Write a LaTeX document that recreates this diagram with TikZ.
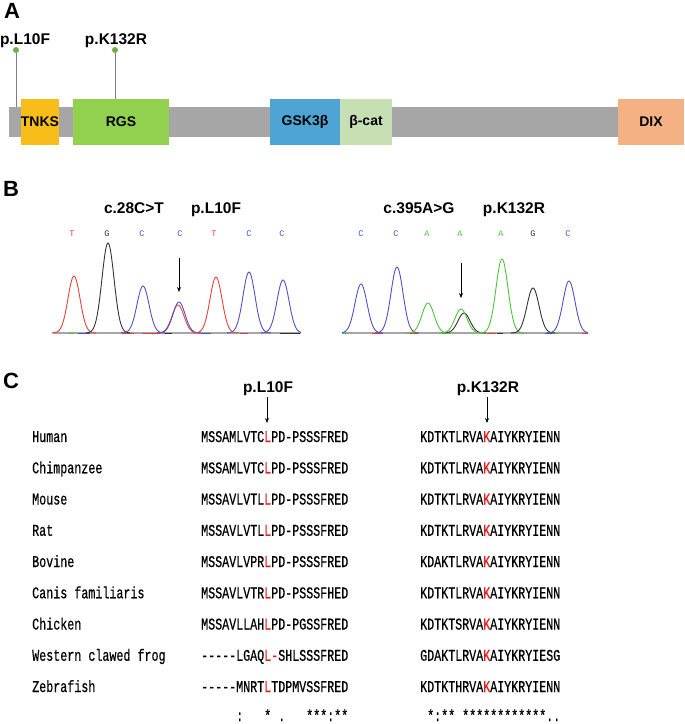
\documentclass[tikz,border=0pt]{standalone}
\usepackage{fontspec}
\setmainfont{Liberation Sans}
\newfontfamily\seqfont[FakeBold=0.6]{Liberation Mono}
\newfontfamily\callfont{Liberation Mono}
\usepackage{graphicx}
\usetikzlibrary{positioning}
\usetikzlibrary{arrows.meta}

\definecolor{barGray}{HTML}{A6A6A6}
\definecolor{tnksCol}{HTML}{F9BD19}
\definecolor{rgsCol}{HTML}{92D050}
\definecolor{gskCol}{HTML}{4EA5D5}
\definecolor{bcatCol}{HTML}{C6E0B4}
\definecolor{dixCol}{HTML}{F4B183}
\definecolor{dotGreen}{HTML}{70AD47}
\definecolor{trT}{HTML}{E8403C}
\definecolor{trG}{HTML}{333333}
\definecolor{trC}{HTML}{5050C8}
\definecolor{trA}{HTML}{4CC43A}
\definecolor{hitRed}{HTML}{E41E1E}

\newcommand{\tall}[1]{\scalebox{1}[1.4]{#1}}
\newcommand{\hit}[1]{\textcolor{hitRed}{#1}}

\begin{document}
\begin{tikzpicture}[x=1pt,y=-1pt]
    \tikzset{
    panel/.style={
        anchor=north west,
        inner sep=0,
        font=\fontsize{22}{24}\selectfont\bfseries
    },
    mutlabel/.style={
        anchor=base,
        inner sep=0,
        font=\fontsize{15.5}{18}\selectfont\bfseries
    },
    domainbox/.style={
        minimum height=46,
        inner sep=0,
        font=\fontsize{14}{16}\selectfont\bfseries
    },
    lolli/.style={
        circle,
        fill=dotGreen,
        minimum size=6,
        inner sep=0
    },
    stem/.style={
        gray,
        line width=0.9
    },
    basecall/.style={
        inner sep=0,
        font=\callfont\fontsize{8.5}{9}\selectfont
    },
    trace/.style={
        line width=0.9,
        smooth
    },
    pointer/.style={
        line width=0.9,
        -{Stealth[length=5pt,width=4pt]}
    },
    species/.style={
        anchor=base west,
        inner sep=0,
        font=\seqfont\fontsize{11.7}{14}\selectfont
    },
    seq/.style={
        anchor=base west,
        inner sep=0,
        font=\seqfont\fontsize{11.67}{14}\selectfont
    }
}
    \useasboundingbox (0,0) rectangle (685,724);

    % A: protein domains
    \node[panel] (PanelA) at (4,3) {A};
    \node[mutlabel] (MutL) at (25,44) {p.L10F};
    \node[mutlabel] (MutK) at (116,44) {p.K132R};

    \node[fill=barGray, minimum width=609, minimum height=30, inner sep=0] (Bar) at (313.5,122) {};
    \node[domainbox, fill=tnksCol, minimum width=38] (TNKS) at (40,122) {TNKS};
    \node[domainbox, fill=rgsCol, minimum width=96] (RGS) at (121,122) {RGS};
    \node[domainbox, fill=gskCol, minimum width=70] (GSK) at (305,122) {GSK3β};
    \node[domainbox, fill=bcatCol, minimum width=52] (Bcat) at (366,122) {β-cat};
    \node[domainbox, fill=dixCol, minimum width=66] (DIX) at (651,122) {DIX};

    \node[lolli] (DotL) at (16,50) {};
    \node[lolli] (DotK) at (115,50) {};
    \draw[stem] (DotL) -- (DotL |- Bar.north);
    \draw[stem] (DotK) -- (DotK |- RGS.north);

    % B: chromatograms
    \node[panel] (PanelB) at (3,181) {B};
    \node[mutlabel] (CdnaL) at (134,213) {c.28C>T};
    \node[mutlabel] (ProtL) at (216,213) {p.L10F};
    \node[mutlabel] (CdnaK) at (419,213) {c.395A>G};
    \node[mutlabel] (ProtK) at (514,213) {p.K132R};

    \node[basecall, text=trT] (bL1) at (72,234) {T};
    \node[basecall, text=trG] (bL2) at (107,234) {G};
    \node[basecall, text=trC] (bL3) at (142,234) {C};
    \node[basecall, text=trC] (bL4) at (180,234) {C};
    \node[basecall, text=trT] (bL5) at (214,234) {T};
    \node[basecall, text=trC] (bL6) at (249,234) {C};
    \node[basecall, text=trC] (bL7) at (282,234) {C};

    \node[basecall, text=trC] (bK1) at (361,234) {C};
    \node[basecall, text=trC] (bK2) at (396,234) {C};
    \node[basecall, text=trA] (bK3) at (427,234) {A};
    \node[basecall, text=trA] (bK4) at (460,234) {A};
    \node[basecall, text=trA] (bK5) at (501,234) {A};
    \node[basecall, text=trG] (bK6) at (533,234) {G};
    \node[basecall, text=trC] (bK7) at (568,234) {C};

    \draw[barGray, line width=1.6] (53,333) -- (301,333);
    \draw[barGray, line width=1.6] (342,333) -- (588,333);
    \draw[trA, line width=1] (68,333) -- (74,333) (342,333) -- (348,333) (552,333) -- (558,333);
    \draw[trC, line width=1] (78,333) -- (90,333) (201,333) -- (211,333) (545,333) -- (552,333);
    \draw[trT, line width=1] (122,333) -- (134,333) (142,333) -- (160,333) (240,333) -- (248,333) (372,333) -- (383,333) (410,333) -- (418,333) (487,333) -- (496,333) (582,333) -- (588,333);
    \draw[trG, line width=1] (165,333) -- (172,333) (280,333) -- (300,333) (497,333) -- (503,333);

    \draw[trace, trT] plot[domain=52:96, samples=45] (\x,{333-57*exp(-((\x-74)/8.5)^2)});
    \draw[trace, trG] plot[domain=86:130, samples=45] (\x,{333-90*exp(-((\x-108)/8.5)^2)});
    \draw[trace, trC] plot[domain=121:165, samples=45] (\x,{333-47*exp(-((\x-143)/8.5)^2)});
    \draw[trace, trT] plot[domain=156:200, samples=45] (\x,{333-28*exp(-((\x-178)/8.5)^2)});
    \draw[trace, trC] plot[domain=157:201, samples=45] (\x,{333-31*exp(-((\x-179)/8.5)^2)});
    \draw[trace, trT] plot[domain=194:238, samples=45] (\x,{333-56*exp(-((\x-216)/8.5)^2)});
    \draw[trace, trC] plot[domain=227:271, samples=45] (\x,{333-61*exp(-((\x-249)/8.5)^2)});
    \draw[trace, trC] plot[domain=261:301, samples=45] (\x,{333-53*exp(-((\x-283)/8.5)^2)});

    \draw[trace, trC] plot[domain=342:383, samples=45] (\x,{333-49*exp(-((\x-361)/8.5)^2)});
    \draw[trace, trC] plot[domain=375:419, samples=45] (\x,{333-66*exp(-((\x-397)/8.5)^2)});
    \draw[trace, trA] plot[domain=406:450, samples=45] (\x,{333-30*exp(-((\x-428)/8.5)^2)});
    \draw[trace, trG] plot[domain=442:486, samples=45] (\x,{333-20*exp(-((\x-464)/8.5)^2)});
    \draw[trace, trA] plot[domain=439:483, samples=45] (\x,{333-24*exp(-((\x-461)/8.5)^2)});
    \draw[trace, trA] plot[domain=480:524, samples=45] (\x,{333-74*exp(-((\x-502)/8.5)^2)});
    \draw[trace, trG] plot[domain=511:555, samples=45] (\x,{333-45*exp(-((\x-533)/8.5)^2)});
    \draw[trace, trC] plot[domain=547:588, samples=45] (\x,{333-52*exp(-((\x-569)/8.5)^2)});

    \coordinate (ArrLtop) at (179,258);
    \coordinate (ArrLend) at (179,292);
    \coordinate (ArrKtop) at (461,263);
    \coordinate (ArrKend) at (461,298);
    \draw[pointer] (ArrLtop) -- (ArrLend);
    \draw[pointer] (ArrKtop) -- (ArrKend);

    % C: alignment
    \node[panel] (PanelC) at (3,373) {C};
    \node[mutlabel] (AlnL) at (268,392) {p.L10F};
    \node[mutlabel] (AlnK) at (488,392) {p.K132R};
    \coordinate (AlnLtop) at (267,397);
    \coordinate (AlnKtop) at (487,397);
    \coordinate (PosL) at (267,423);
    \coordinate (PosK) at (487,423);
    \draw[pointer] (AlnLtop) -- (PosL);
    \draw[pointer] (AlnKtop) -- (PosK);

    \node[species] (Human) at (32,442) {\tall{Human}};
    \node[seq] (HumanL) at (201,442) {\tall{MSSAMLVTC\hit{L}PD-PSSSFRED}};
    \node[seq] (HumanK) at (420,442) {\tall{KDTKTLRVA\hit{K}AIYKRYIENN}};

    \node[species] (Chimp) at (32,473.25) {\tall{Chimpanzee}};
    \node[seq] (ChimpL) at (201,473.25) {\tall{MSSAMLVTC\hit{L}PD-PSSSFRED}};
    \node[seq] (ChimpK) at (420,473.25) {\tall{KDTKTLRVA\hit{K}AIYKRYIENN}};

    \node[species] (Mouse) at (32,504.5) {\tall{Mouse}};
    \node[seq] (MouseL) at (201,504.5) {\tall{MSSAVLVTL\hit{L}PD-PSSSFRED}};
    \node[seq] (MouseK) at (420,504.5) {\tall{KDTKTLRVA\hit{K}AIYKRYIENN}};

    \node[species] (Rat) at (32,535.75) {\tall{Rat}};
    \node[seq] (RatL) at (201,535.75) {\tall{MSSAVLVTL\hit{L}PD-PSSSFRED}};
    \node[seq] (RatK) at (420,535.75) {\tall{KDTKTLRVA\hit{K}AIYKRYIENN}};

    \node[species] (Bovine) at (32,567) {\tall{Bovine}};
    \node[seq] (BovineL) at (201,567) {\tall{MSSAVLVPR\hit{L}PD-PSSSFRED}};
    \node[seq] (BovineK) at (420,567) {\tall{KDAKTLRVA\hit{K}AIYKRYIENN}};

    \node[species] (Canis) at (32,598.25) {\tall{Canis familiaris}};
    \node[seq] (CanisL) at (201,598.25) {\tall{MSSAVLVTR\hit{L}PD-PSSSFHED}};
    \node[seq] (CanisK) at (420,598.25) {\tall{KDTKTLRVA\hit{K}AIYKRYIENN}};

    \node[species] (Chicken) at (32,629.5) {\tall{Chicken}};
    \node[seq] (ChickenL) at (201,629.5) {\tall{MSSAVLLAH\hit{L}PD-PGSSFRED}};
    \node[seq] (ChickenK) at (420,629.5) {\tall{KDTKTSRVA\hit{K}AIYKRYIENN}};

    \node[species] (Frog) at (32,660.75) {\tall{Western clawed frog}};
    \node[seq] (FrogL) at (201,660.75) {\tall{-----LGAQ\hit{L-}SHLSSSFRED}};
    \node[seq] (FrogK) at (420,660.75) {\tall{GDAKTLRVA\hit{K}AIYKRYIESG}};

    \node[species] (Zebrafish) at (32,692) {\tall{Zebrafish}};
    \node[seq] (ZebrafishL) at (201,692) {\tall{-----MNRT\hit{L}TDPMVSSFRED}};
    \node[seq] (ZebrafishK) at (420,692) {\tall{KDTKTHRVA\hit{K}AIYKRYIENN}};

    \node[seq] (ConsL) at (201,721) {\tall{~~~~~:~~~*~.~~~***:**}};
    \node[seq] (ConsK) at (420,721) {\tall{~*:**~************..}};
    \end{tikzpicture}
\end{document}
